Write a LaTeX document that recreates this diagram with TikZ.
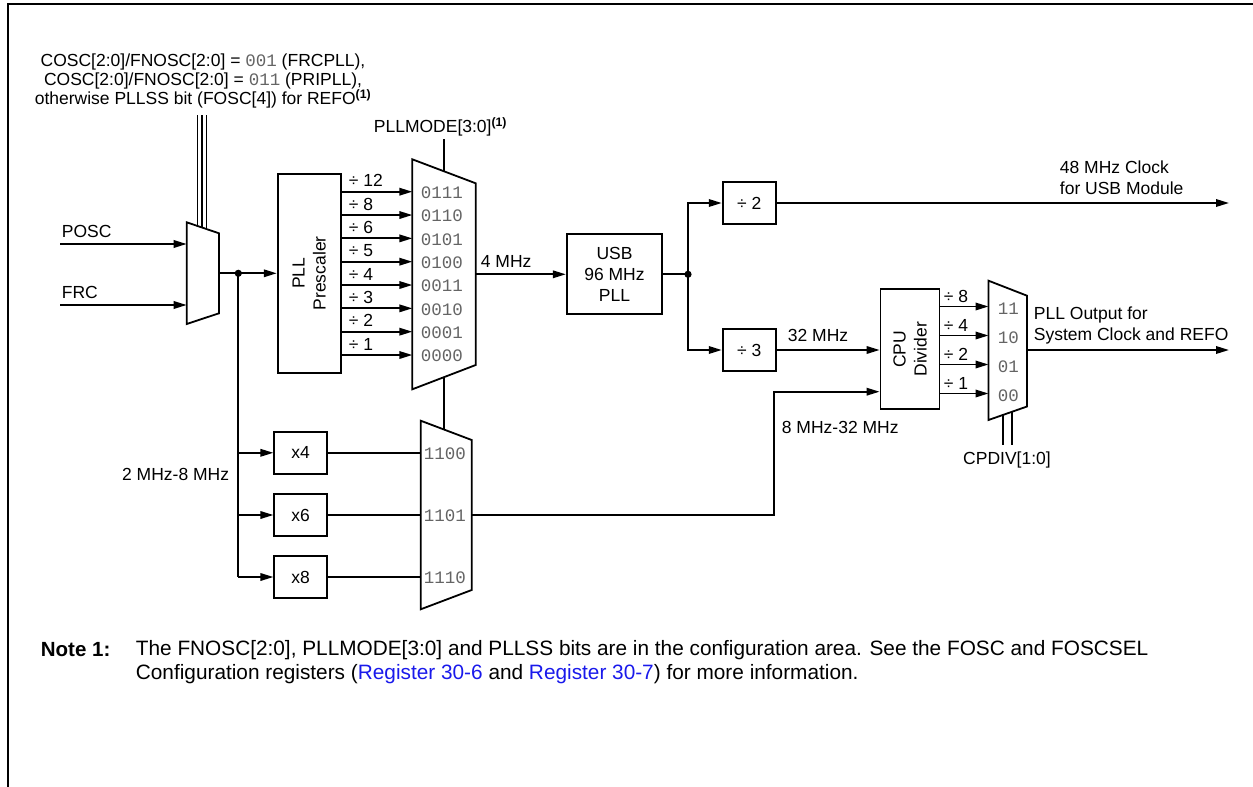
\documentclass[tikz,border=0pt]{standalone}
\usepackage{fontspec}
\setmainfont{Liberation Sans}
\setmonofont{Liberation Mono}
\usetikzlibrary{arrows.meta}
\definecolor{mgray}{RGB}{100,100,100}
\definecolor{lnk}{RGB}{25,25,235}
\newcommand{\mnum}[1]{{\ttfamily\color{mgray}#1}}
\newcommand{\noteref}{\textsuperscript{\bfseries(1)}}
\begin{document}
\begin{tikzpicture}[x=1pt,y=-1pt,line width=1.8pt,
  font=\fontsize{17.5}{21}\selectfont,
  >={Triangle[length=13pt,width=7.5pt]},
  box/.style={draw,line width=1.8pt,inner sep=0pt},
  lbl/.style={inner sep=0pt,anchor=west},
  monolbl/.style={inner sep=0pt,anchor=west,text=mgray,font=\fontsize{17.5}{21}\ttfamily},
  mux/.style={draw,line width=1.8pt,line join=miter},
  dot/.style={fill=black}]
\useasboundingbox (0,0) rectangle (1253,787);
% frame
\draw[line width=2.2pt] (8,790) -- (8,4) -- (1256,4);

% header text
\node[align=center,inner sep=0pt,font=\fontsize{17.5}{19}\selectfont] (hdr) at (203,81)
 {COSC[2:0]/FNOSC[2:0] = \mnum{001} (FRCPLL),\\ COSC[2:0]/FNOSC[2:0] = \mnum{011} (PRIPLL),\\ otherwise PLLSS bit (FOSC[4]) for REFO\noteref};

% input mux
\draw[mux] (186.7,222.3) -- (219,233.3) -- (219,313.3) -- (186.7,324) -- cycle;
\coordinate (s1t) at (197.5,115); \coordinate (s1b) at (197.5,226.1);
\coordinate (s2t) at (202,115);   \coordinate (s2b) at (202,227.6);
\coordinate (s3t) at (206.5,115); \coordinate (s3b) at (206.5,229.1);
\draw[line width=1.5pt] (s1t) -- (s1b) (s2t) -- (s2b) (s3t) -- (s3b);
\node[lbl] (posc) at (61,231) {POSC};
\node[lbl] (frc) at (61,292) {FRC};
\coordinate (poscin) at (60,244); \coordinate (m1a) at (186.7,244);
\coordinate (frcin) at (60,305);  \coordinate (m1b) at (186.7,305);
\draw[->] (poscin) -- (m1a);
\draw[->] (frcin) -- (m1b);
\coordinate (m1o) at (219,273.3);
\coordinate (j1) at (238.3,273.3);

% prescaler
\node[box,minimum width=63.3pt,minimum height=198.7pt] (pre) at (309.3,273.3) {};
\node[rotate=90,align=center,inner sep=0pt] (pretxt) at (pre.center) {PLL\\Prescaler};
\draw (m1o) -- (j1);
\draw[->] (j1) -- (pre.west |- j1);
\fill[dot] (j1) circle (3.6pt);

% main mux
\draw[mux] (412.3,159.3) -- (475.7,183.3) -- (475.7,365) -- (412.3,389.3) -- cycle;
\foreach \i/\d/\c in {0/12/0111,1/8/0110,2/6/0101,3/5/0100,4/4/0011,5/3/0010,6/2/0001,7/1/0000}{
  \pgfmathsetmacro\yy{191.7+23.33*\i}
  \coordinate (pin\i) at (412.3,\yy);
  \draw[->] (pre.east |- pin\i) -- (pin\i);
  \node[lbl] (dl\i) at (348,\yy-11) {÷ \d};
  \node[monolbl] (ml\i) at (420,\yy+1) {\c};
}
\node[lbl] (pllmode) at (373,127) {PLLMODE[3:0]\noteref};
\coordinate (pmt) at (444,139); \coordinate (pmb) at (444,171.3);
\draw (pmt) -- (pmb);

% USB PLL
\coordinate (m2o) at (475.7,274.3);
\node[box,minimum width=95.6pt,minimum height=80pt,align=center] (usb) at (614.5,274.3) {USB\\96 MHz\\PLL};
\draw[->] (m2o) -- (usb.west);
\node[lbl] (f4) at (480,261) {4 MHz};
\coordinate (j2) at (688,274.3);
\draw (usb.east) -- (j2);

% dividers
\node[box,minimum width=53.3pt,minimum height=42pt] (dv2) at (749.3,203) {÷ 2};
\node[box,minimum width=53.3pt,minimum height=42pt] (dv3) at (749.3,350) {÷ 3};
\draw[->] (j2) |- (dv2.west);
\draw[->] (j2) |- (dv3.west);
\fill[dot] (j2) circle (3.6pt);
\coordinate (usbout) at (1229,203);
\draw[->] (dv2.east) -- (usbout);
\node[lbl,align=left] (usblbl) at (1059,178) {48 MHz Clock\\for USB Module};

% CPU divider
\node[box,minimum width=59pt,minimum height=120pt] (cpu) at (910,349.3) {};
\node[rotate=90,align=center,inner sep=0pt] (cputxt) at (cpu.center) {CPU\\Divider};
\draw[->] (dv3.east) -- (dv3.east -| cpu.west);
\node[lbl] (f32) at (787,335) {32 MHz};

% CPU mux
\draw[mux] (988.5,280.7) -- (1027,295.7) -- (1027,406.5) -- (988.5,420) -- cycle;
\foreach \i/\d/\c in {0/8/11,1/4/10,2/2/01,3/1/00}{
  \pgfmathsetmacro\yy{306.5+29*\i}
  \coordinate (cp\i) at (988.5,\yy);
  \draw[->] (cpu.east |- cp\i) -- (cp\i);
  \node[lbl] (cdl\i) at (943,\yy-10) {÷ \d};
  \node[monolbl] (cml\i) at (997,\yy+2) {\c};
}
\coordinate (m4o) at (1027,350);
\coordinate (sysout) at (1229,350);
\draw[->] (m4o) -- (sysout);
\node[lbl,align=left] (syslbl) at (1033,325.5) {PLL Output for\\System Clock and REFO};
\coordinate (cd1t) at (1003,414.9); \coordinate (cd1b) at (1003,445);
\coordinate (cd2t) at (1012,411.8); \coordinate (cd2b) at (1012,445);
\draw[line width=1.5pt] (cd1t) -- (cd1b) (cd2t) -- (cd2b);
\node[inner sep=0pt] (cpdiv) at (1007,460) {CPDIV[1:0]};

% multipliers
\node[box,minimum width=52.4pt,minimum height=42pt] (x4) at (300.5,452.8) {x4};
\node[box,minimum width=52.4pt,minimum height=42pt] (x6) at (300.5,515) {x6};
\node[box,minimum width=52.4pt,minimum height=42pt] (x8) at (300.5,577) {x8};
\draw (j1) -- (j1 |- x8.west);
\draw[->] (j1 |- x4.west) -- (x4.west);
\draw[->] (j1 |- x6.west) -- (x6.west);
\draw[->] (j1 |- x8.west) -- (x8.west);
\node[lbl,anchor=east] (f28) at (230,474) {2 MHz-8 MHz};

% multiplier mux
\draw[mux] (420.7,420.7) -- (471.7,440) -- (471.7,590) -- (420.7,609.3) -- cycle;
\coordinate (q0) at (420.7,452.8); \coordinate (q1) at (420.7,515); \coordinate (q2) at (420.7,577);
\draw (x4.east) -- (q0);
\draw (x6.east) -- (q1);
\draw (x8.east) -- (q2);
\node[monolbl] (ql0) at (423,453.8) {1100};
\node[monolbl] (ql1) at (423,516) {1101};
\node[monolbl] (ql2) at (423,578) {1110};
\coordinate (mlt) at (444,377.2); \coordinate (mlb) at (444,429.9);
\draw (mlt) -- (mlb);
\coordinate (m3o) at (471.7,515);
\coordinate (bend1) at (774,515); \coordinate (bend2) at (774,391.7);
\draw[->] (m3o) -- (bend1) -- (bend2) -- (bend2 -| cpu.west);
\node[lbl] (f832) at (781,427) {8 MHz-32 MHz};

% note
\node[lbl,font=\fontsize{20.5}{24}\bfseries] (note) at (40,650) {Note 1:};
\node[lbl,align=left,font=\fontsize{20.8}{24}\selectfont] (notetxt) at (135,662)
 {The FNOSC[2:0], PLLMODE[3:0] and PLLSS bits are in the configuration area. See the FOSC and FOSCSEL\\
  Configuration registers (\textcolor{lnk}{Register 30-6} and \textcolor{lnk}{Register 30-7}) for more information.};
\end{tikzpicture}
\end{document}
